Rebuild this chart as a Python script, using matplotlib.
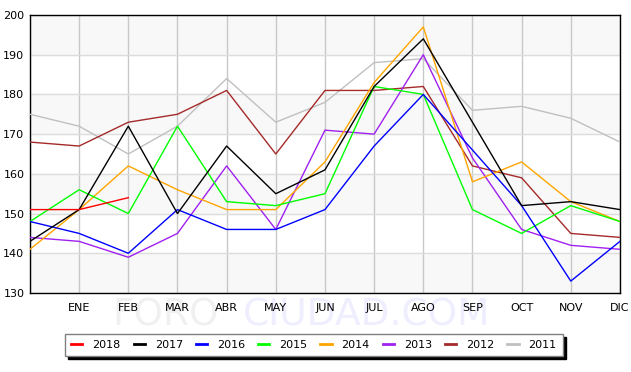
import matplotlib
matplotlib.use('Agg')
import matplotlib.pyplot as plt

# month labels (position 0 is left unlabeled)
months = ['', 'ENE', 'FEB', 'MAR', 'ABR', 'MAY', 'JUN', 'JUL', 'AGO', 'SEP', 'OCT', 'NOV', 'DIC']

# values per year
v2018 = [151, 151, 154]
v2017 = [143, 151, 172, 150, 167, 155, 161, 182, 194, 173, 152, 153, 151]
v2016 = [148, 145, 140, 151, 146, 146, 151, 167, 180, 166, 152, 133, 143]
v2015 = [148, 156, 150, 172, 153, 152, 155, 182, 180, 151, 145, 152, 148]
v2014 = [141, 151, 162, 156, 151, 151, 163, 183, 197, 158, 163, 153, 148]
v2013 = [144, 143, 139, 145, 162, 146, 171, 170, 190, 164, 146, 142, 141]
v2012 = [168, 167, 173, 175, 181, 165, 181, 181, 182, 162, 159, 145, 144]
v2011 = [175, 172, 165, 172, 184, 173, 178, 188, 189, 176, 177, 174, 168]

years = ['2018', '2017', '2016', '2015', '2014', '2013', '2012', '2011']
series = [v2018, v2017, v2016, v2015, v2014, v2013, v2012, v2011]
colors = ['#ff0000', '#000000', '#0000ff', '#00ff00', '#ffa500', '#a020f0', '#a52a2a', '#c0c0c0']

fig = plt.figure(figsize=(6.31, 3.72), dpi=100)
ax = fig.add_axes([0.0475, 0.2124, 0.935, 0.7473])

# alternating background bands
for lo in range(130, 200, 20):
    ax.axhspan(lo, lo + 10, color='#f8f8f8', zorder=0)
ax.axhspan(190, 200, color='#f8f8f8', zorder=0)

ax.set_xlim(0, 12)
ax.set_ylim(130, 200)
ax.set_xticks(range(13))
ax.set_xticklabels(months, fontsize=8)
ax.set_yticks(range(130, 201, 10))
ax.tick_params(axis='both', length=0, labelsize=8, pad=7)
ax.tick_params(axis='y', pad=4)
ax.grid(axis='x', color='#c8c8c8', lw=1, zorder=1)
ax.grid(axis='y', color='#dddddd', lw=1, zorder=1)
ax.set_axisbelow(True)
for sp in ax.spines.values():
    sp.set_linewidth(1)

# watermark
fig.text(0.178, 0.126, 'FORO', fontsize=27, color='#f0f0f0', va='baseline', ha='left', zorder=-1)
fig.text(0.385, 0.126, 'CIUDAD.COM', fontsize=27, color='#eeeeff', va='baseline', ha='left', zorder=-1)

for yr, vals, c in reversed(list(zip(years, series, colors))):
    ax.plot(range(len(vals)), vals, color=c, lw=1, label=yr, zorder=3)

handles, labels = ax.get_legend_handles_labels()
handles, labels = handles[::-1], labels[::-1]
leg = fig.legend(handles, labels, loc='center', bbox_to_anchor=(0.4976, 0.0726), ncol=8,
                 fontsize=8, handlelength=1.0, handletextpad=0.9, columnspacing=1.17,
                 frameon=True, fancybox=False, edgecolor='#808080', borderpad=0.55,
                 borderaxespad=0, shadow={'color': 'black', 'alpha': 1})
leg.get_frame().set_linewidth(1)
for line in leg.get_lines():
    line.set_linewidth(2)

fig.savefig('out.png', dpi=100)
